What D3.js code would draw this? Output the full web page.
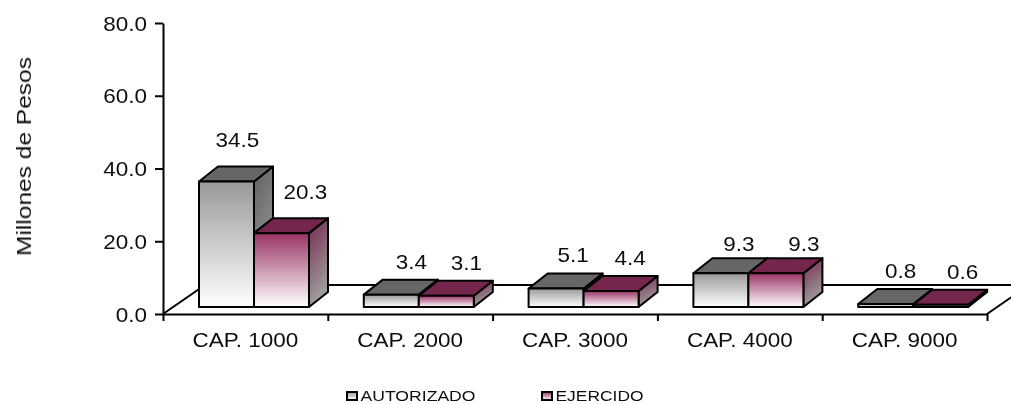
<!DOCTYPE html>
<html><head><meta charset="utf-8">
<script src="https://cdn.jsdelivr.net/npm/d3@7"></script>
<style>
html,body{margin:0;padding:0;background:#fff;overflow:hidden}
svg{display:block}
text{font-family:"Liberation Sans",Arial,sans-serif;fill:#111}
</style></head><body>
<svg id="c" width="1011" height="404"></svg>
<script>
const categories=["CAP. 1000","CAP. 2000","CAP. 3000","CAP. 4000","CAP. 9000"];
const seriesNames=["AUTORIZADO","EJERCIDO"];
const autorizado=[34.5,3.4,5.1,9.3,0.8];
const ejercido=[20.3,3.1,4.4,9.3,0.6];
const yTicks=[0,20,40,60,80];

const svg=d3.select("#c");
const W=1011,H=404;
const x0=163,x1=987,yTop=23,yBot=314;
const floorDx=42,floorDy=-29;      // floor depth
const barDx=19,barDy=-15;          // bar depth
const baseLift=7;                  // bars stand in from the front floor edge
const barInset=36,barW=55;
const stretch=1.07;
const labelShift=[[11,24],[20,20],[17,19],[18,28],[15,22]];

const x=d3.scaleBand().domain(categories).range([x0,x1]).paddingInner(0).paddingOuter(0);
const y=d3.scaleLinear().domain([0,80]).range([yBot,yTop]);

const palettes=[
 {front:"#999999",top:"#666666",sideA:"#5f5f5f",sideB:"#a0a0a0"},
 {front:"#993366",top:"#74274e",sideA:"#74274e",sideB:"#a0a0a0"}
];
const defs=svg.append("defs");
defs.append("filter").attr("id","soft").attr("x","-2%").attr("y","-2%").attr("width","104%").attr("height","104%")
  .append("feGaussianBlur").attr("stdDeviation",0.45);
palettes.forEach((p,i)=>{
  const f=defs.append("linearGradient").attr("id","front"+i).attr("x1",0).attr("y1",0).attr("x2",0).attr("y2",1);
  f.append("stop").attr("offset",0).attr("stop-color",p.front);
  f.append("stop").attr("offset",1).attr("stop-color","#ffffff");
  const s=defs.append("linearGradient").attr("id","side"+i).attr("x1",0).attr("y1",0).attr("x2",0.3).attr("y2",1);
  s.append("stop").attr("offset",0).attr("stop-color",p.sideA);
  s.append("stop").attr("offset",1).attr("stop-color",p.sideB);
});

const root=svg.append("g").attr("filter","url(#soft)");

// floor
root.append("path").attr("fill","none").attr("stroke","#000").attr("stroke-width",2)
  .attr("d",`M${x0},${yBot}L${x0+floorDx},${yBot+floorDy}L${W},${yBot+floorDy}`);
root.append("path").attr("fill","none").attr("stroke","#000").attr("stroke-width",2)
  .attr("d",`M${x1},${yBot}L${x1+floorDx},${yBot+floorDy}`);

// axes
const yAxis=d3.axisLeft(y).tickValues(yTicks).tickFormat(d3.format(".1f")).tickSize(8).tickSizeOuter(0).tickPadding(8);
const gy=root.append("g").attr("transform",`translate(${x0},0)`).call(yAxis);
const xAxis=d3.axisBottom(d3.scaleLinear().domain([0,categories.length]).range([x0,x1]))
  .tickValues(d3.range(categories.length+1)).tickFormat("").tickSize(7).tickSizeOuter(0);
const gx=root.append("g").attr("transform",`translate(0,${yBot})`).call(xAxis);
[gx,gy].forEach(g=>{
  g.selectAll("path,line").attr("stroke","#000").attr("stroke-width",2);
  g.select("path.domain").attr("fill","none");
});
gy.selectAll("text").attr("font-size",21).attr("fill","#111").attr("dy","0.34em");

root.append("g").selectAll("text").data(categories).join("text")
  .attr("x",d=>x(d)+x.bandwidth()/2).attr("y",347).attr("text-anchor","middle").attr("font-size",21).text(d=>d);

// bars
const h=v=>yBot-y(v);
const rows=categories.map((c,i)=>[autorizado[i],ejercido[i]].map((v,s)=>({c,v,s,i})));
const groups=root.append("g").selectAll("g").data(rows).join("g");
groups.each(function(row){
  const g=d3.select(this);
  row.forEach(d=>{
    const left=x(d.c)+barInset+d.s*barW;
    const base=yBot-baseLift, top=base-h(d.v);
    const b=g.append("g").attr("stroke","#000").attr("stroke-width",2).attr("stroke-linejoin","round");
    b.append("path").attr("fill",`url(#side${d.s})`)
      .attr("d",`M${left+barW},${top}l${barDx},${barDy}V${base+barDy}l${-barDx},${-barDy}Z`);
    b.append("path").attr("fill",palettes[d.s].top)
      .attr("d",`M${left},${top}l${barDx},${barDy}h${barW}l${-barDx},${-barDy}Z`);
    b.append("rect").attr("x",left).attr("y",top).attr("width",barW).attr("height",base-top)
      .attr("fill",`url(#front${d.s})`);
  });
});

// value labels
const labelRise=v=>v>15?42:(v>9?30:33.5);
rows.flat().forEach(d=>{
  root.append("text").attr("x",x(d.c)+barInset+d.s*barW+barW/2+labelShift[d.i][d.s])
    .attr("y",y(d.v)-baseLift-labelRise(d.v)+7.5).attr("text-anchor","middle").attr("font-size",21).text(d.v.toFixed(1));
});

// horizontal stretch of the type, as in the reference
root.selectAll("text").each(function(){
  d3.select(this).attr("textLength",this.getComputedTextLength()*stretch).attr("lengthAdjust","spacingAndGlyphs");
});

// y title
root.append("text").attr("transform","translate(31,156.5) rotate(-90)").attr("text-anchor","middle")
  .attr("font-size",21).attr("textLength",199).attr("lengthAdjust","spacingAndGlyphs").text("Millones de Pesos");

// legend
const legX=[347,542],legW=[115,88];
seriesNames.forEach((n,i)=>{
  root.append("rect").attr("x",legX[i]).attr("y",392).attr("width",10).attr("height",8)
    .attr("fill",`url(#front${i})`).attr("stroke","#000").attr("stroke-width",2);
  root.append("text").attr("x",legX[i]+13.5).attr("y",400.5).attr("font-size",14)
    .attr("textLength",legW[i]).attr("lengthAdjust","spacingAndGlyphs").text(n);
});
</script>
</body></html>
